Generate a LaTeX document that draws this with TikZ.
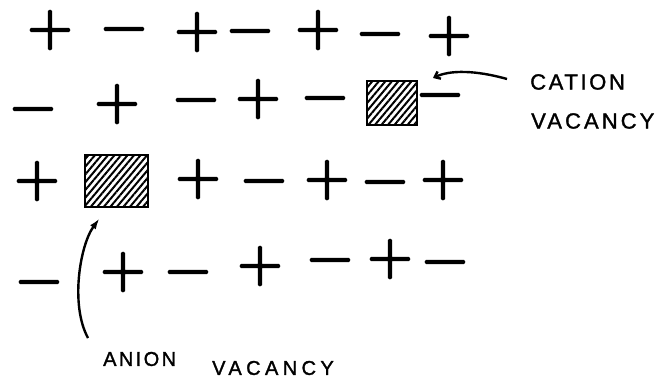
\documentclass[tikz,border=0pt]{standalone}
\usepackage{fontspec}
\newfontfamily\handfont[LetterSpace=12,FakeBold=1.5]{Liberation Sans}
\newfontfamily\chgfont[FakeBold=3]{Latin Modern Roman}
\usetikzlibrary{arrows.meta,patterns.meta}
\tikzset{
  chg/.style={font=\chgfont\fontsize{52}{52}\selectfont\bfseries, inner sep=0pt, text height=31pt, text depth=5pt},
  vac/.style={draw, line width=2.8pt, pattern={Lines[angle=50,distance=5pt,line width=2pt]}, inner sep=0pt},
  lbl/.style={font=\handfont\fontsize{22}{22}\selectfont, inner sep=0pt},
  albl/.style={font=\handfont\fontsize{20}{20}\selectfont, inner sep=0pt},
  arr/.style={line width=2.4pt, -{Latex[length=11pt,width=7pt]}},
  carr/.style={line width=2.4pt, -{Straight Barb[length=5pt,width=8pt]}}
}
\begin{document}
\begin{tikzpicture}[x=1pt,y=-1pt]
\useasboundingbox (0,0) rectangle (663,385);
% row 1
\node[chg] (a1) at (50,30) {+};
\node[chg] (a2) at (124,29) {−};
\node[chg] (a3) at (197,32) {+};
\node[chg] (a4) at (250,31) {−};
\node[chg] (a5) at (318,30) {+};
\node[chg] (a6) at (380,34) {−};
\node[chg] (a7) at (449,36) {+};
% row 2
\node[chg] (b1) at (33,109) {−};
\node[chg] (b2) at (117,104) {+};
\node[chg] (b3) at (196,100) {−};
\node[chg] (b4) at (258,99) {+};
\node[chg] (b5) at (325,98) {−};
\node[vac, minimum width=50pt, minimum height=44pt] (cvac) at (392,103) {};
\node[chg] (b7) at (440,95) {−};
% row 3
\node[chg] (c1) at (37,181) {+};
\node[vac, minimum width=63pt, minimum height=52pt] (avac) at (116.5,181) {};
\node[chg] (c3) at (198,179) {+};
\node[chg] (c4) at (264,181) {−};
\node[chg] (c5) at (327,180) {+};
\node[chg] (c6) at (385,182) {−};
\node[chg] (c7) at (443,180) {+};
% row 4
\node[chg] (d1) at (39,282) {−};
\node[chg] (d2) at (123,272) {+};
\node[chg] (d3) at (188,272) {−};
\node[chg] (d4) at (260,266) {+};
\node[chg] (d5) at (330,260) {−};
\node[chg] (d6) at (390,259) {+};
\node[chg] (d7) at (445,262) {−};
% labels
\node[lbl, anchor=west] (cat1) at (530,82) {CATION};
\node[lbl, anchor=west] (cat2) at (531,121) {\addfontfeature{LetterSpace=14}VACANCY};
\node[albl, anchor=west] (an1) at (103,359) {ANION};
\node[albl, anchor=west] (an2) at (212,368) {\addfontfeature{LetterSpace=22}VACANCY};
% arrows
\coordinate (atail) at (88,338);
\draw[arr] (atail) .. controls (70,305) and (80,245) .. ([xshift=-17pt,yshift=-10pt]avac.south);
\coordinate (ctail) at (507,79);
\draw[carr] (ctail) .. controls (475,70) and (450,70) .. ([xshift=15pt,yshift=25pt]cvac.east);
\end{tikzpicture}
\end{document}
